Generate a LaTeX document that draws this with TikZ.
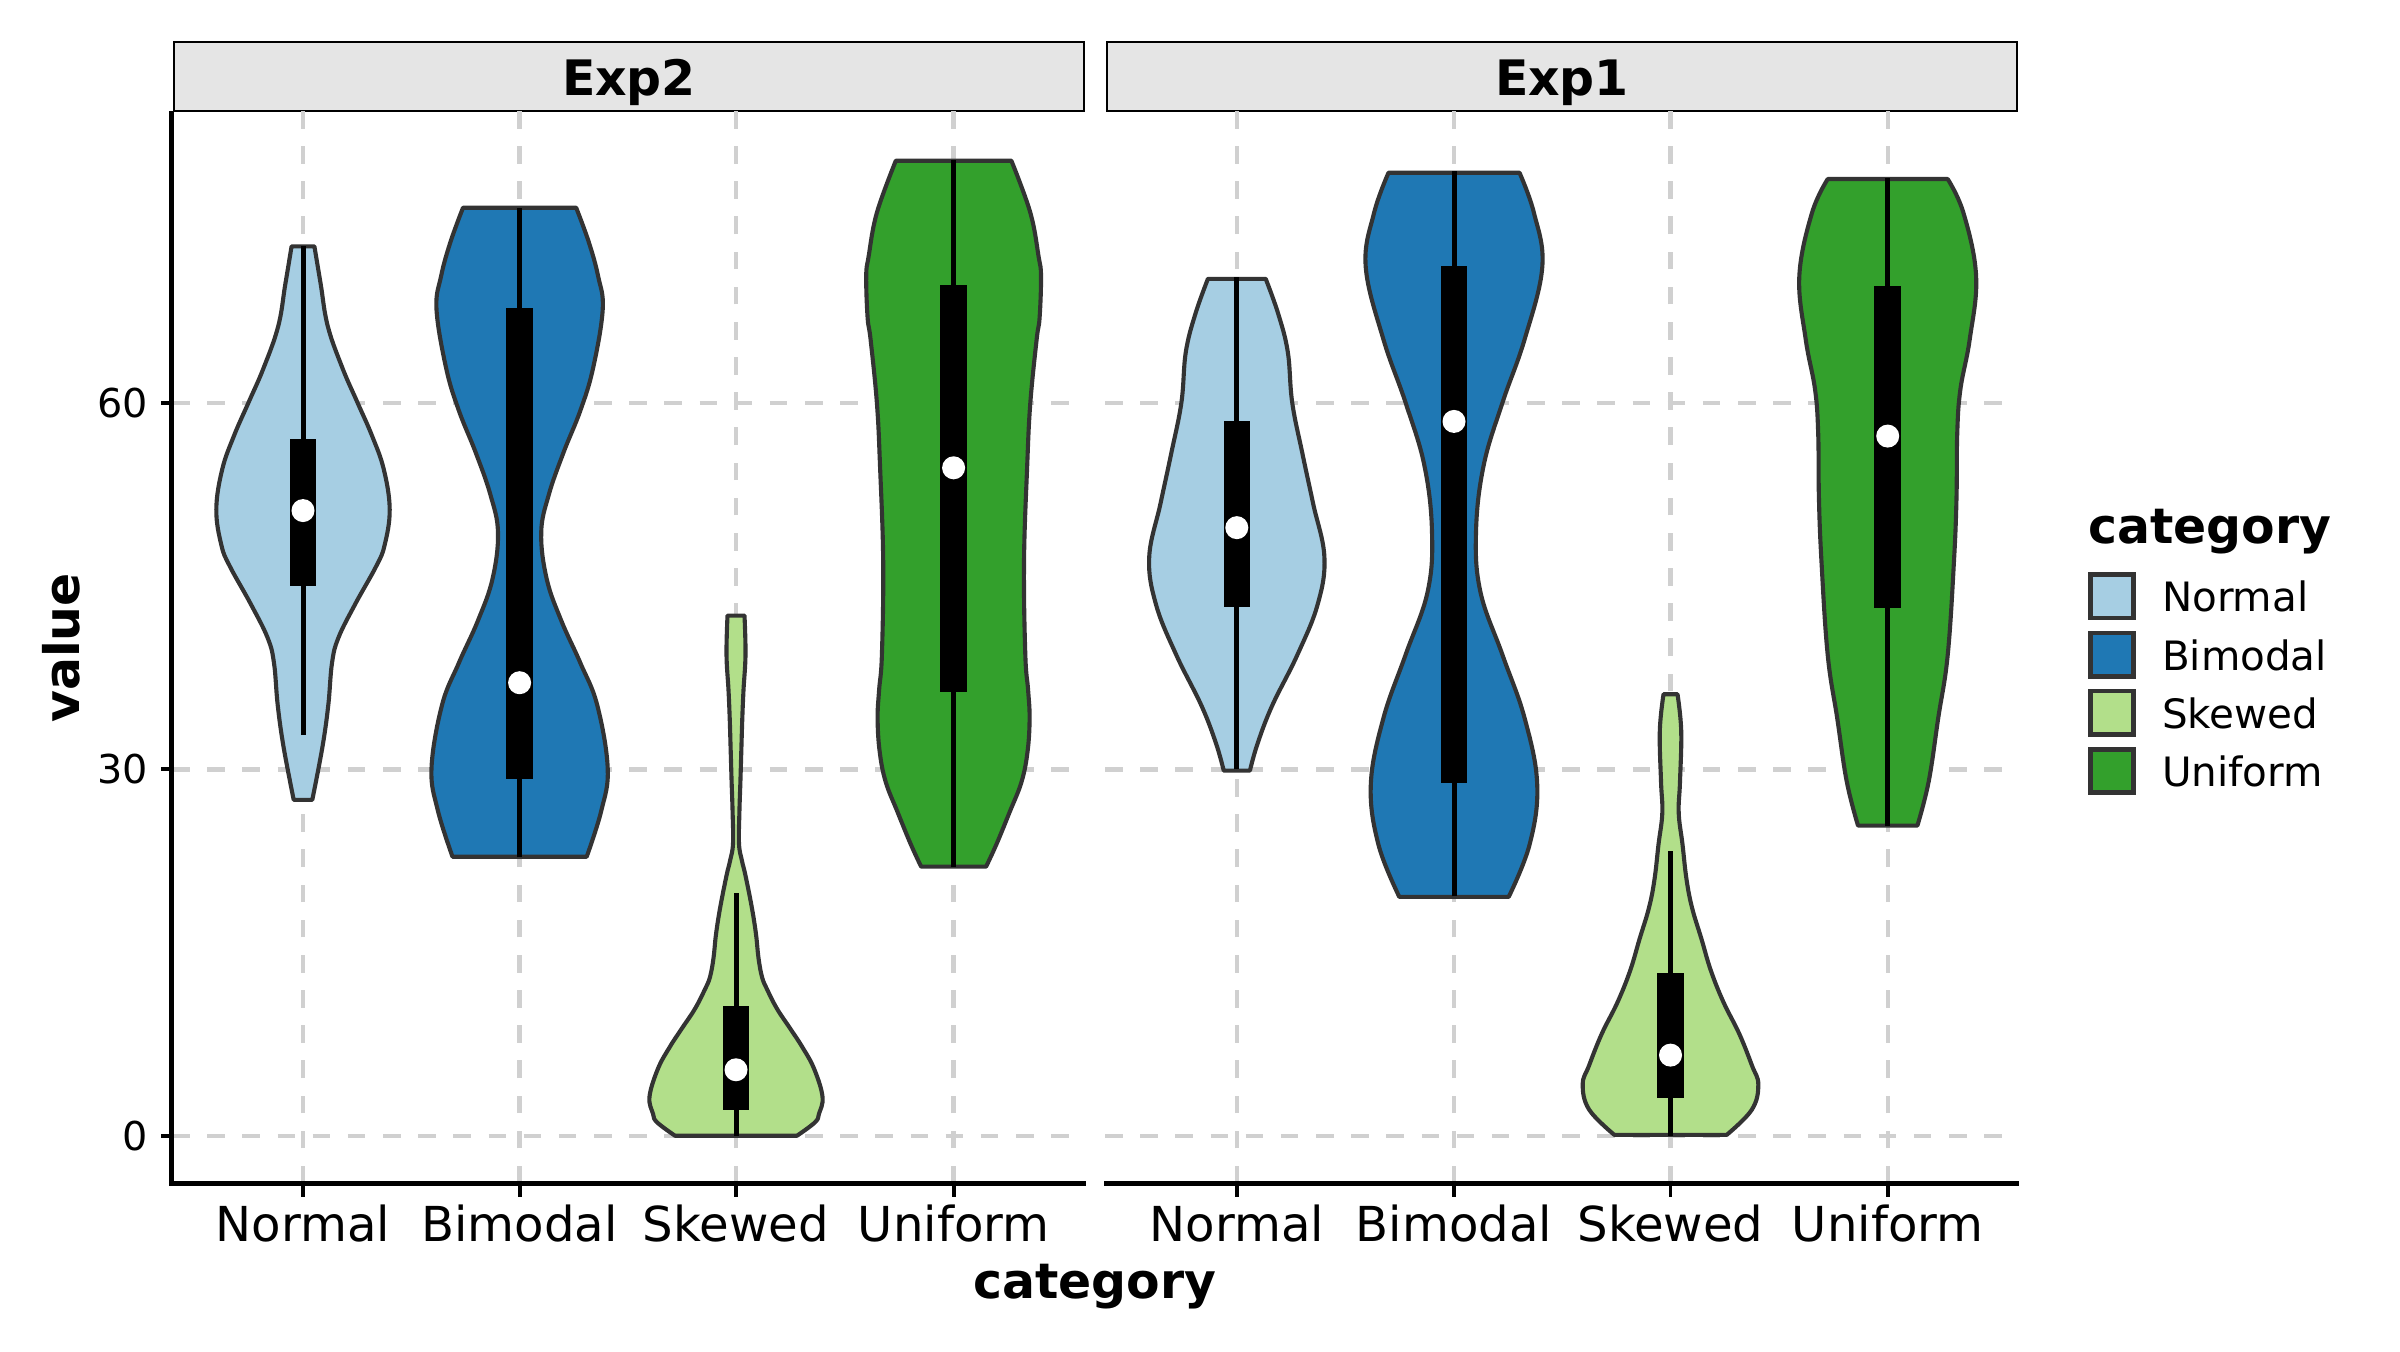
\documentclass[tikz,border=0pt]{standalone}
\usepackage{fontspec}
\setmainfont{DejaVu Sans}
\definecolor{cNormal}{HTML}{A6CEE3}
\definecolor{cBimodal}{HTML}{1F78B4}
\definecolor{cSkewed}{HTML}{B2DF8A}
\definecolor{cUniform}{HTML}{33A02C}
\definecolor{outl}{HTML}{333333}
\definecolor{gridc}{HTML}{D0D0D0}
\definecolor{stripc}{HTML}{E5E5E5}
\newcommand\violinat[3]{%
  \gdef\rpts{}\gdef\lpts{}%
  \foreach \vv/\hh in {#3}{\xdef\rpts{\rpts(\hh,\vv)}\xdef\lpts{(-\hh,\vv)\lpts}}%
  \begin{scope}[shift={(#1,1135.7)},yscale=-12.21]
  \edef\tmp{\noexpand\draw[violin,fill=#2] plot[smooth,tension=0.65] coordinates {\rpts} -- plot[smooth,tension=0.65] coordinates {\lpts} -- cycle;}\tmp
  \end{scope}}
\newcommand\boxat[6]{%
  \begin{scope}[shift={(#1,1135.7)},yscale=-12.21]
  \draw[whisker] (0,#2) -- (0,#3);
  \fill[black] (-13.3,#4) rectangle (13.3,#5);
  \node[meddot] at (0,#6) {};
  \end{scope}}
\begin{document}
\begin{tikzpicture}[x=0.01cm,y=-0.01cm,
  violin/.style={draw=outl,line width=1.17pt,line join=round},
  whisker/.style={draw=black,line width=1.42pt},
  meddot/.style={circle,fill=white,draw=none,inner sep=0pt,minimum size=0.23cm},
  gridl/.style={draw=gridc,line width=1.25pt,dash pattern=on 5pt off 5pt},
  axisl/.style={draw=black,line width=1.28pt},
  tickl/.style={draw=black,line width=1.1pt},
  strip/.style={draw=black,fill=stripc,line width=0.6pt},
  txt/.style={inner sep=0pt,outer sep=0pt},
  ticklab/.style={txt,font=\fontsize{11.3}{13}\selectfont},
  xlab/.style={txt,anchor=base,font=\fontsize{13.7}{16}\selectfont},
  btitle/.style={txt,anchor=base,font=\fontsize{13.9}{16}\selectfont\bfseries},
  legkey/.style={draw=outl,line width=1.33pt},
  leglab/.style={txt,anchor=base west,font=\fontsize{11.5}{13}\selectfont}]
\useasboundingbox (0,0) rectangle (2400,1351);
% strips
\draw[strip] (174,42.4) rectangle (1084,110.7);
\draw[strip] (1107,42.4) rectangle (2017,110.7);
\node[btitle] (s2) at (629,95) {Exp2};
\node[btitle] (s1) at (1562,95) {Exp1};
% grid lines
\foreach \yy in {403.1,769.4,1135.7}{
  \draw[gridl] (172,\yy) -- (1085.5,\yy);
  \draw[gridl] (1105,\yy) -- (2018.5,\yy);}
\foreach \xx in {303,519.6,736,953.6,1236.8,1454,1670.5,1887.7}{
  \draw[gridl] (\xx,1183.5) -- (\xx,110.7);}
% violins Exp2
\violinat{303}{cNormal}{72.84/11.4,69.74/17.7,66.29/24.8,62.84/39.6,60.08/54.3,57.33/69,54.57/80.8,51.29/86.7,48.36/81.6,46.64/73.2,43.54/52.2,40.78/35.4,38.71/29,35.27/25.3,31.82/19.4,27.51/9.3}
\violinat{519.6}{cBimodal}{76.0/56.6,73.18/69.2,70.4/78.5,67.67/83.1,62.84/73.4,59.4/60.8,55.95/43.9,52.5/29.2,49.4/21.6,45.6/27.1,42.16/41.8,38.71/60.8,35.27/77.6,30.1/88.1,26.65/81.8,22.85/67.1}
\violinat{736}{cSkewed}{42.6/8.5,39.4/9.5,36.5/7.5,34.2/6.3,31.5/5.3,29/4.4,26.5/3.4,23.9/3,22.5/6,21.3/9.5,18.7/15.8,16.5/20,14.55/22.5,13/26,12/31,10.4/41,8.8/54,7.3/66,5.5/78,3.2/86.5,1.8/83,1.1/79,0/61}
\violinat{953.6}{cUniform}{79.85/57.8,75.6/76.7,72/85,70.4/87.4,67/86,65.2/83,60/76.7,54.9/73.6,47/70.4,39.4/71.7,36.5/74.5,34.2/76,31.5/74,29/68,26.5/56,23.9/43,22.04/32.5}
% violins Exp1
\violinat{1236.8}{cNormal}{70.18/28.9,67.29/41.5,64.18/51,60.05/55.4,55.91/65.5,51.78/76.3,47.38/87.6,43.5/80.8,39.37/60.5,35.23/35.4,32.13/20.8,29.9/13.1}
\violinat{1454}{cBimodal}{78.87/65.5,75.56/80,71.17/88.3,65.22/70.6,60.05/48.5,54.88/29.6,49.45/22,44.54/26.4,39.37/48.5,34.2/70.6,28.77/83.2,23.85/75.6,19.56/54.7}
\violinat{1670.5}{cSkewed}{36.16/7,33.16/10.7,29.02/9.5,26.44/8.2,23.86/12,21/16,18.68/21.5,16.1/31,13.51/40.4,10.93/53,8.34/68.8,5.76/81.4,4.2/87.8,2.14/81.4,0.07/56.2}
\violinat{1887.7}{cUniform}{78.35/60,75.56/75.8,70.39/88.4,65.22/82,61.08/72.6,57.46/69.5,52.29/68.8,47.12/66.3,39.37/60,34.2/50.5,29.02/41,25.4/29.7}
% boxplots
\boxat{303}{32.8}{72.9}{45.0}{57.1}{51.2}
\boxat{519.6}{22.8}{76.0}{29.2}{67.8}{37.1}
\boxat{736}{0}{19.9}{2.1}{10.6}{5.4}
\boxat{953.6}{22.0}{79.9}{36.3}{69.7}{54.7}
\boxat{1236.8}{30.0}{70.3}{43.3}{58.5}{49.8}
\boxat{1454}{19.6}{79.0}{28.9}{71.2}{58.5}
\boxat{1670.5}{0}{23.3}{3.1}{13.3}{6.6}
\boxat{1887.7}{25.4}{78.4}{43.2}{69.6}{57.3}
% axes
\draw[axisl] (171.7,110.7) -- (171.7,1185.5);
\draw[axisl] (169.7,1183.3) -- (1086,1183.3);
\draw[axisl] (1104,1183.3) -- (2019,1183.3);
\foreach \yy in {403.1,769.4,1135.7}{\draw[tickl] (161,\yy) -- (172,\yy);}
\foreach \xx in {303,519.6,736,953.6,1236.8,1454,1670.5,1887.7}{\draw[tickl] (\xx,1183) -- (\xx,1196.7);}
% y tick labels
\node[ticklab,anchor=base east] (y60) at (148,417.6) {60};
\node[ticklab,anchor=base east] (y30) at (148,783.9) {30};
\node[ticklab,anchor=base east] (y0) at (148,1150.2) {0};
% x tick labels
\foreach \xx/\nm [count=\i] in {303/Normal,519.6/Bimodal,736/Skewed,953.6/Uniform,1236.8/Normal,1454/Bimodal,1670.5/Skewed,1887.7/Uniform}{
  \node[xlab] (xl\i) at (\xx,1241.7) {\nm};}
% axis titles
\node[btitle] (xt) at (1094.7,1298) {category};
\node[btitle,rotate=90] (yt) at (80,648) {value};
% legend
\node[txt,anchor=base west,font=\fontsize{13.9}{16}\selectfont\bfseries] (lt) at (2088,543) {category};
\foreach \cc/\nm/\yc [count=\i] in {cNormal/Normal/596.3,cBimodal/Bimodal/654.6,cSkewed/Skewed/712.8,cUniform/Uniform/771}{
  \draw[legkey,fill=\cc] (2090.3,\yc-21.7) rectangle (2133.7,\yc+21.7);
  \node[leglab] (ll\i) at (2162,\yc+15.4) {\nm};}
\end{tikzpicture}
\end{document}
